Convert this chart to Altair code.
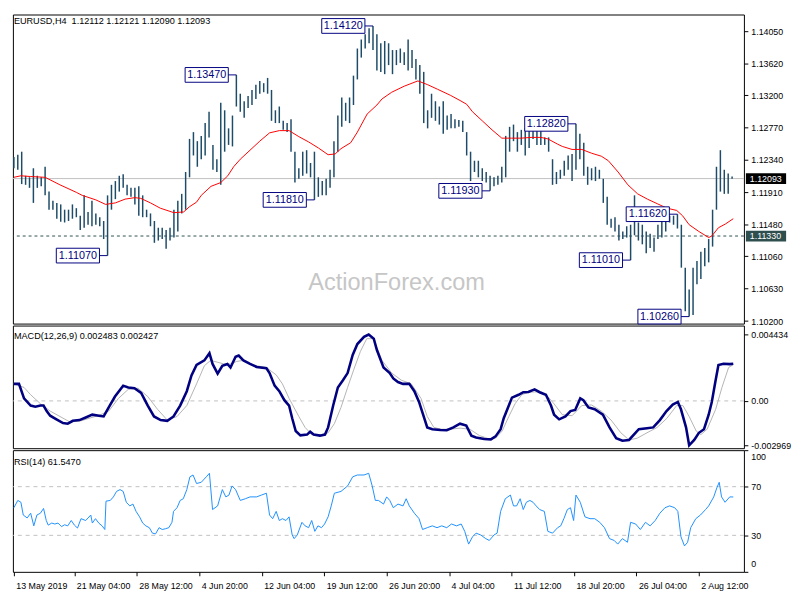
import altair as alt
import pandas as pd

# ---------------- data ----------------
bar_high = [
    1.1238, 1.1241, 1.1245, 1.1213, 1.1211, 1.1223, 1.1213, 1.1211, 1.1225, 1.1192,
    1.1180, 1.1177, 1.1175, 1.1168, 1.1168, 1.1175, 1.1170, 1.1160, 1.1187, 1.1165,
    1.1180, 1.1163, 1.1158, 1.1153, 1.1187, 1.1201, 1.1206, 1.1213, 1.1215, 1.1201,
    1.1197, 1.1197, 1.1199, 1.1187, 1.1168, 1.1163, 1.1153, 1.1144, 1.1144, 1.1141,
    1.1144, 1.1168, 1.1180, 1.1189, 1.1218, 1.1262, 1.1271, 1.1259, 1.1266, 1.1283,
    1.1298, 1.1254, 1.1235, 1.1310, 1.1300, 1.1276, 1.1293, 1.1347, 1.1322, 1.1312,
    1.1319, 1.1327, 1.1334, 1.1339, 1.1336, 1.1343, 1.1327, 1.1300, 1.1305, 1.1286,
    1.1283, 1.1288, 1.1245, 1.1223, 1.1245, 1.1247, 1.1230, 1.1245, 1.1211, 1.1206,
    1.1209, 1.1221, 1.1259, 1.1293, 1.1317, 1.1310, 1.1317, 1.1346, 1.1382, 1.1394,
    1.1401, 1.1409, 1.1412, 1.1401, 1.1389, 1.1392, 1.1389, 1.1380, 1.1380, 1.1382,
    1.1377, 1.1394, 1.1380, 1.1368, 1.1360, 1.1351, 1.1300, 1.1322, 1.1312, 1.1305,
    1.1312, 1.1293, 1.1295, 1.1288, 1.1287, 1.1286, 1.1271, 1.1245, 1.1233, 1.1233,
    1.1223, 1.1218, 1.1213, 1.1211, 1.1213, 1.1225, 1.1266, 1.1278, 1.1281, 1.1271,
    1.1274, 1.1276, 1.1278, 1.1279, 1.1278, 1.1274, 1.1264, 1.1264, 1.1235, 1.1218,
    1.1221, 1.1233, 1.1240, 1.1242, 1.1282, 1.1269, 1.1257, 1.1225, 1.1223, 1.1225,
    1.1221, 1.1209, 1.1185, 1.1156, 1.1158, 1.1148, 1.1139, 1.1146, 1.1148, 1.1187,
    1.1151, 1.1148, 1.1139, 1.1136, 1.1131, 1.1148, 1.1158, 1.1160, 1.1160, 1.1160,
    1.1162, 1.1148, 1.1091, 1.1062, 1.1091, 1.1100, 1.1112, 1.1117, 1.1129, 1.1168,
    1.1225, 1.1247, 1.1221, 1.1216, 1.1212,
]
bar_low = [
    1.1223, 1.1221, 1.1202, 1.1201, 1.1197, 1.1177, 1.1197, 1.1199, 1.1187, 1.1168,
    1.1168, 1.1156, 1.1152, 1.1151, 1.1153, 1.1156, 1.1158, 1.1141, 1.1144, 1.1148,
    1.1146, 1.1148, 1.1146, 1.1129, 1.1107, 1.1168, 1.1182, 1.1192, 1.1197, 1.1187,
    1.1185, 1.1175, 1.1160, 1.1158, 1.1158, 1.1146, 1.1124, 1.1127, 1.1129, 1.1116,
    1.1127, 1.1131, 1.1139, 1.1163, 1.1168, 1.1211, 1.1240, 1.1225, 1.1235, 1.1240,
    1.1264, 1.1221, 1.1218, 1.1201, 1.1245, 1.1254, 1.1252, 1.1305, 1.1298, 1.1290,
    1.1303, 1.1307, 1.1315, 1.1322, 1.1324, 1.1322, 1.1286, 1.1283, 1.1283, 1.1274,
    1.1271, 1.1245, 1.1204, 1.1209, 1.1213, 1.1216, 1.1211, 1.1181, 1.1185, 1.1187,
    1.1187, 1.1197, 1.1211, 1.1245, 1.1278, 1.1286, 1.1283, 1.1307, 1.1341, 1.1370,
    1.1382, 1.1389, 1.1380, 1.1353, 1.1351, 1.1348, 1.1360, 1.1348, 1.1360, 1.1363,
    1.1360, 1.1353, 1.1356, 1.1341, 1.1322, 1.1283, 1.1276, 1.1290, 1.1286, 1.1281,
    1.1269, 1.1274, 1.1276, 1.1276, 1.1278, 1.1271, 1.1240, 1.1206, 1.1218, 1.1211,
    1.1206, 1.1204, 1.1193, 1.1199, 1.1201, 1.1204, 1.1211, 1.1245, 1.1259, 1.1245,
    1.1254, 1.1240, 1.1250, 1.1262, 1.1254, 1.1254, 1.1254, 1.1245, 1.1201, 1.1202,
    1.1209, 1.1213, 1.1221, 1.1206, 1.1221, 1.1235, 1.1213, 1.1201, 1.1207, 1.1206,
    1.1209, 1.1177, 1.1148, 1.1144, 1.1139, 1.1127, 1.1129, 1.1131, 1.1101, 1.1134,
    1.1127, 1.1122, 1.1110, 1.1117, 1.1112, 1.1129, 1.1131, 1.1139, 1.1151, 1.1148,
    1.1143, 1.1091, 1.1033, 1.1026, 1.1028, 1.1069, 1.1076, 1.1093, 1.1098, 1.1119,
    1.1168, 1.1192, 1.1189, 1.1189, 1.1209,
]

ma_bar = [0, 1.8, 4.3, 8, 11.8, 16, 17.5, 21, 23.5, 26, 28.5, 31, 32.5, 35, 37.5, 41, 43.5, 45,
          46.8, 48, 50.5, 53, 54.8, 56.3, 58, 60.5, 63, 65.5, 68, 70.5, 73, 75.5, 78, 80.5,
          82.3, 83.8, 86.3, 88, 90.5, 93, 94.3, 96.8, 100, 103.5, 106, 108.5, 111.8, 114.3,
          116, 117.5, 120, 122.5, 125, 127.5, 130, 132.5, 135, 136.8, 139.3, 140.5, 143,
          145.5, 148, 150.5, 152.3, 154.8, 157.3, 159.8, 162.3, 164.8, 167.3, 169.8, 171.3,
          173, 175.5, 178, 178.8, 180.5, 182.3, 184.3]
ma_val = [1.1211, 1.1213, 1.1212, 1.1211, 1.1201, 1.1191, 1.1187, 1.1181, 1.1175, 1.1177,
          1.1182, 1.1184, 1.1183, 1.1177, 1.1170, 1.1164, 1.1165, 1.1172, 1.1178, 1.1187,
          1.1199, 1.1204, 1.1213, 1.1225, 1.1235, 1.1247, 1.1259, 1.1270, 1.1273, 1.1273,
          1.1265, 1.1258, 1.1250, 1.1241, 1.1242, 1.1249, 1.1257, 1.1271, 1.1295, 1.1307,
          1.1315, 1.1324, 1.1332, 1.1339, 1.1334, 1.1328, 1.1320, 1.1313, 1.1308, 1.1298,
          1.1286, 1.1274, 1.1263, 1.1263, 1.1263, 1.1264, 1.1264, 1.1262, 1.1255, 1.1252,
          1.1248, 1.1248, 1.1243, 1.1239, 1.1233, 1.1218, 1.1201, 1.1189, 1.1182, 1.1176,
          1.1170, 1.1167, 1.1160, 1.1148, 1.1139, 1.1131, 1.1133, 1.1144, 1.1149, 1.1156]

macd_bar = [0, 1.3, 2.6, 4.3, 5.5, 6.8, 7.6, 8.4, 9.3, 10.9, 12.6, 13.8, 15.1, 16.8, 18.4, 20.1,
            21.8, 23, 24.3, 25.9, 28, 29.3, 30.9, 32.6, 34.3, 35.9, 37.6, 39.3, 40.9, 42.6,
            44.3, 45.5, 46.8, 48.8, 50.1, 50.9, 52.2, 53.4, 54.7, 55.5, 56.8, 57.6, 58.8, 60.5,
            62.2, 64.7, 65.5, 66.8, 68, 69.3, 70.5, 71.3, 72.2, 73.4, 75.1, 75.9, 76.8, 78.4,
            79.7, 80.5, 81.8, 83, 84.3, 85.5, 86.8, 88, 89.7, 90.9, 92.2, 93, 94.7, 96.3, 97.2,
            98.4, 99.7, 101.3, 102.6, 103.8, 104.7, 105.9, 107.2, 109.3, 110.9, 112.6, 114.3,
            115.9, 117.2, 118.4, 120.5, 122.2, 123.4, 124.7, 125.5, 126.8, 127.6, 129.3, 130.5,
            131.8, 133.4, 134.7, 136.3, 137.6, 138.4, 139.7, 141.3, 142.6, 143.8, 145.1, 145.9,
            147.2, 148.8, 150.9, 152.6, 154.3, 155.9, 157.6, 160.1, 162.2, 163.8, 165.5, 167.2,
            168.8, 170.1, 170.9, 172.2, 173, 174.3, 175.5, 176.8, 178, 178.8, 179.7, 180.5,
            181.8, 183.4, 184.3]
macd_val = [0.00114, 0.00114, 0.00017, -0.00031, -0.00039, -0.00031, -0.00031, -0.00068,
            -0.00099, -0.00123, -0.00148, -0.00152, -0.00133, -0.00128, -0.00111, -0.00092,
            -0.00099, -0.00104, -0.00044, 0.00029, 0.00102, 0.00090, 0.00085, 0.00053,
            -0.00031, -0.00104, -0.00128, -0.00133, -0.00104, -0.00031, 0.00065, 0.00170,
            0.00240, 0.00271, 0.00319, 0.00247, 0.00182, 0.00235, 0.00247, 0.00223, 0.00295,
            0.00303, 0.00271, 0.00247, 0.00227, 0.00218, 0.00186, 0.00102, 0.00065, 0.00005,
            -0.00031, -0.00116, -0.00201, -0.00230, -0.00225, -0.00206, -0.00225, -0.00232,
            -0.00225, -0.00177, -0.00031, 0.00090, 0.00138, 0.00186, 0.00307, 0.00380,
            0.00428, 0.004434, 0.00416, 0.00340, 0.00223, 0.00186, 0.00150, 0.00126, 0.00114,
            0.00114, 0.00065, -0.00007, -0.00080, -0.00177, -0.00189, -0.00194, -0.00196,
            -0.00177, -0.00152, -0.00165, -0.00232, -0.00244, -0.00254, -0.00257, -0.00237,
            -0.00189, -0.00116, -0.00031, 0.00022, 0.00041, 0.00058, 0.00060, 0.00077,
            0.00058, 0.00041, -0.00031, -0.00092, -0.00123, -0.00104, -0.00068, -0.00060,
            0.00017, 0.00005, -0.00044, -0.00056, -0.00092, -0.00177, -0.00249, -0.00266,
            -0.00261, -0.00189, -0.00182, -0.00177, -0.00128, -0.00068, -0.00024, -0.00007,
            -0.00056, -0.00177, -0.002969, -0.00261, -0.00213, -0.00189, -0.00092, -0.00007,
            0.00126, 0.00240, 0.00248, 0.00246, 0.002483]

sig_bar = [0, 2.6, 4.3, 6.8, 9.3, 11.8, 14.3, 16.8, 19.3, 21.8, 24.3, 26.8, 29.3, 31.8, 34.3,
           36.8, 39.3, 41.8, 44.3, 46.8, 48.8, 50.4, 52.1, 53.8, 55.5, 57.1, 58.8, 60.5, 62.2,
           64.7, 67.2, 68.8, 70.5, 73, 74.6, 76.3, 78.8, 80.5, 82.1, 83.8, 85.5, 87.1, 88.8,
           90.4, 92.1, 94.3, 96.8, 99.3, 101.8, 104.3, 105.9, 107.6, 109.3, 111.8, 114.3,
           116.8, 119.3, 121.8, 123.4, 125.1, 126.8, 128.4, 130.1, 131.8, 133.4, 135.1, 136.8,
           138.4, 140.5, 143, 145.5, 148, 150.5, 153, 155.5, 157.6, 159.7, 162.2, 164.8,
           167.3, 169.8, 171.4, 173, 174.8, 176, 177.6, 179.8, 181.4, 183.1, 184.3]
sig_val = [0.00114, 0.00090, 0.00041, -0.00019, -0.00068, -0.00104, -0.00140, -0.00136,
           -0.00116, -0.00097, -0.00068, 0.00017, 0.00077, 0.00085, 0.00029, -0.00056,
           -0.00128, -0.00104, -0.00031, 0.00114, 0.00235, 0.00271, 0.00259, 0.00247,
           0.00247, 0.00264, 0.00271, 0.00247, 0.00235, 0.00223, 0.00174, 0.00114, 0.00017,
           -0.00104, -0.00177, -0.00225, -0.00225, -0.00213, -0.00152, -0.00044, 0.00090,
           0.00211, 0.00332, 0.00416, 0.00416, 0.00271, 0.00186, 0.00138, 0.00114, 0.00017,
           -0.00104, -0.00177, -0.00189, -0.00189, -0.00182, -0.00189, -0.00232, -0.00254,
           -0.00249, -0.00201, -0.00104, -0.00019, 0.00041, 0.00058, 0.00060, 0.00060,
           0.00029, -0.00020, -0.00092, -0.00099, -0.00031, -0.00027, -0.00068, -0.00128,
           -0.00213, -0.00261, -0.00249, -0.00213, -0.00177, -0.00116, -0.00031, -0.00031,
           -0.00104, -0.00201, -0.00225, -0.00189, -0.00056, 0.00090, 0.00223, 0.002427]

rsi_bar = [0, 1, 1.8, 2.4, 3.4, 4.3, 5.1, 5.9, 6.8, 7.6, 8.3, 8.8, 9.7, 10.5, 11.3, 12.2, 13,
           13.8, 14.7, 15.5, 16.3, 17.2, 18.4, 19.7, 20.1, 20.9, 21.8, 22.6, 23.3, 23.6, 24.7,
           25.5, 26.3, 27.2, 28, 28.8, 29.7, 30.5, 31.3, 32.2, 33, 33.8, 34.7, 35.5, 36.3,
           37.2, 38, 38.8, 39.7, 40.5, 40.9, 41.8, 42.6, 43.4, 44.3, 45.1, 45.9, 46.8, 48,
           49.3, 50.1, 50.9, 52.2, 53.4, 54.3, 55.1, 55.9, 56.8, 58, 59.3, 60.5, 62.2, 63.4,
           64.7, 65.5, 66.3, 67.2, 68, 68.8, 69.7, 70.5, 71.3, 71.8, 72.6, 73.8, 74.6, 75.5,
           76.3, 77.1, 77.9, 78.8, 79.6, 80.5, 81.3, 82.1, 83.8, 85.5, 86.8, 88, 89.7, 90.9,
           91.8, 92.6, 93.4, 94.7, 95.5, 96.3, 97.2, 98.4, 99.7, 100.5, 101.3, 102.6, 103.8,
           104.7, 105.9, 107.2, 108.4, 109.6, 110.9, 112.1, 113.4, 114.6, 115.5, 116.5, 117.5,
           118.4, 119.6, 120.9, 121.8, 123, 123.8, 124.7, 125.9, 127.2, 128, 128.8, 129.7,
           130.5, 131.3, 132.2, 133, 133.8, 134.7, 135.9, 136.8, 138, 139.3, 140.1, 140.9,
           141.8, 142.6, 143.4, 144, 145.1, 146.3, 147.6, 148.8, 150.1, 151.3, 152.6, 153.8,
           154.7, 155.9, 157.2, 158, 159.3, 160.5, 161.8, 163, 164.3, 165.5, 166.8, 168,
           169.3, 170.1, 170.9, 171.8, 172.6, 173.4, 174.7, 175.9, 177.2, 178, 179.3, 180.1,
           180.7, 181.3, 182.2, 183.4, 184.3]
rsi_val = [52.7, 58.7, 57.2, 46.7, 44.3, 48.2, 37.8, 46.7, 48.2, 52.1, 42.2, 38.4, 40.1, 39.3,
           40.1, 37.2, 38.7, 37.8, 42.2, 38.4, 36.0, 43.7, 42.2, 46.7, 40.1, 43.7, 39.9, 37.8,
           34.8, 58.1, 58.7, 61.6, 66.1, 67.6, 66.1, 57.2, 54.2, 55.7, 49.7, 45.2, 40.1, 37.8,
           36.3, 31.8, 31.2, 36.3, 34.8, 35.4, 36.3, 40.7, 49.7, 52.7, 58.7, 60.1, 67.6, 78.1,
           79.6, 72.6, 73.6, 78.1, 81.0, 51.2, 54.2, 67.6, 61.6, 63.1, 70.6, 67.6, 58.7, 60.1,
           61.6, 61.6, 63.1, 64.6, 46.7, 43.7, 49.7, 42.2, 43.7, 42.2, 45.2, 30.3, 27.3, 30.3,
           40.7, 37.8, 36.3, 42.2, 33.3, 37.8, 36.3, 39.3, 45.2, 54.2, 64.6, 66.1, 70.6, 78.1,
           79.6, 79.6, 81.0, 70.6, 58.7, 58.7, 55.7, 61.6, 58.7, 52.7, 55.7, 54.2, 60.1, 54.2,
           48.2, 43.7, 34.8, 36.3, 37.8, 36.3, 37.8, 36.3, 39.3, 37.8, 39.3, 33.3, 22.8, 28.8,
           31.8, 30.3, 27.3, 25.8, 30.3, 31.8, 49.7, 60.1, 63.1, 54.2, 54.2, 60.1, 51.2, 57.2,
           58.7, 57.2, 54.2, 51.2, 49.7, 33.3, 31.8, 36.3, 37.8, 43.7, 51.2, 52.7, 42.2, 63.1,
           57.2, 45.2, 43.7, 43.7, 40.7, 36.3, 27.3, 25.8, 22.8, 27.3, 24.3, 40.7, 39.3, 34.8,
           40.7, 37.8, 42.2, 48.2, 52.7, 54.2, 52.7, 49.7, 28.8, 21.3, 24.3, 36.3, 43.7, 46.7,
           51.2, 54.2, 61.6, 69.1, 73.6, 61.6, 57.2, 61.6, 61.547]

ann_bar = [92, 57, 77, 24, 122, 144, 170, 158, 173]
ann_price = [1.1412, 1.1347, 1.1181, 1.1107, 1.1193, 1.1282, 1.1162, 1.1101, 1.1026]
ann_label = ["1.14120", "1.13470", "1.11810", "1.11070", "1.11930", "1.12820", "1.11620",
             "1.11010", "1.10260"]

price_ticks = [1.1405, 1.1362, 1.1320, 1.1277, 1.1234, 1.1191, 1.1148, 1.1106, 1.1063, 1.1020]
last_price = 1.12093
level_price = 1.1133
tag_prices = [1.12093, 1.1133]
tag_labels = ["1.12093", "1.11330"]
tag_colors = ["#000000", "#2f4f4f"]

macd_ticks = [0.004434, 0.0, -0.002969]
macd_tick_labels = ["0.004434", "0.00", "-0.002969"]
rsi_ticks = [0, 30, 70, 100]
rsi_levels = [30, 70]

x_ticks = [0, 15.5, 31.5, 47.5, 63.5, 79.5, 95.5, 111.5, 127.5, 143.5, 159.5, 175.5]
x_labels = ["13 May 2019", "21 May 04:00", "28 May 12:00", "4 Jun 20:00", "12 Jun 04:00",
            "19 Jun 12:00", "26 Jun 20:00", "4 Jul 04:00", "11 Jul 12:00", "18 Jul 20:00",
            "26 Jul 04:00", "2 Aug 12:00"]

title_main = "EURUSD,H4\u00a0 1.12112 1.12121 1.12090 1.12093"
title_macd = "MACD(12,26,9) 0.002483 0.002427"
title_rsi = "RSI(14) 61.5470"
watermark = "ActionForex.com"

# ---------------- styling ----------------
W = 745
H_MAIN, H_MACD, H_RSI = 315, 125, 124
FONT = "Liberation Sans"
NAVY = "#000080"
BAR_COLOR = "#1d4b68"
BOX_PATH = "M-1,-0.341L1,-0.341L1,0.341L-1,0.341Z"


def ternary(vals, labels):
    expr = "''"
    for v, l in reversed(list(zip(vals, labels))):
        expr = f"datum.value == {v} ? '{l}' : ({expr})"
    return expr


x_scale = alt.Scale(domain=[-0.25, 187.03], nice=False, zero=False)
price_scale = alt.Scale(domain=[1.10167, 1.14272], nice=False, zero=False)
macd_scale = alt.Scale(domain=[-0.003161, 0.005036], nice=False, zero=False)
rsi_scale = alt.Scale(domain=[0, 100], nice=False, zero=False)

price_axis = alt.Axis(orient="right", values=price_ticks, format=".5f", title=None,
                      tickSize=4, labelPadding=3, labelOverlap=False)
macd_axis = alt.Axis(orient="right", values=macd_ticks,
                     labelExpr=ternary(macd_ticks, macd_tick_labels), title=None,
                     tickSize=4, labelPadding=3, labelOverlap=False)
rsi_axis = alt.Axis(orient="right", values=rsi_ticks, format="d", title=None,
                    tickSize=4, labelPadding=3, labelFlush=True, labelFlushOffset=-3,
                    labelOverlap=False)
x_axis = alt.Axis(orient="bottom", values=x_ticks, labelExpr=ternary(x_ticks, x_labels),
                  title=None, tickSize=4, labelPadding=6, labelAlign="left", labelOffset=2,
                  labelFlush=False, labelOverlap=False)


def PX(f, axis=None):
    return alt.X(f, type="quantitative", scale=x_scale, axis=axis)


def PY(f):
    return alt.Y(f, type="quantitative", scale=price_scale, axis=price_axis)


def MY(f):
    return alt.Y(f, type="quantitative", scale=macd_scale, axis=macd_axis)


def RY(f):
    return alt.Y(f, type="quantitative", scale=rsi_scale, axis=rsi_axis)


def one(text):
    return pd.DataFrame({"t": [text]})


# ---------------- main price panel ----------------
bars_df = pd.DataFrame({"bar": list(range(len(bar_high))), "high": bar_high, "low": bar_low})
ma_df = pd.DataFrame({"bar": ma_bar, "val": ma_val})
ann_df = pd.DataFrame({"bar": ann_bar, "price": ann_price, "label": ann_label})
tag_df = pd.DataFrame({"p": tag_prices, "label": tag_labels, "bg": tag_colors})

wm = alt.Chart(one(watermark)).mark_text(font=FONT, fontSize=24, color="#c6c6c6",
                                         align="center", baseline="middle").encode(
    x=alt.value(391), y=alt.value(274), text="t:N")
last_line = alt.Chart(pd.DataFrame({"p": [last_price]})).mark_rule(
    color="#c0c0c0", strokeWidth=1).encode(y=PY("p"))
level_line = alt.Chart(pd.DataFrame({"p": [level_price]})).mark_rule(
    color="#2f4f4f", strokeWidth=1, strokeDash=[3, 3]).encode(y=PY("p"))
bars = alt.Chart(bars_df).mark_rule(color=BAR_COLOR, strokeWidth=1.5).encode(
    x=PX("bar"), y=PY("low"), y2=alt.Y2("high"))
ma = alt.Chart(ma_df).mark_line(color="#ff0000", strokeWidth=1).encode(
    x=PX("bar"), y=PY("val"))
ann_base = alt.Chart(ann_df).transform_calculate(bc="datum.bar - 7.6")
conn = ann_base.mark_rule(color=NAVY, strokeWidth=1).encode(
    x=PX("bc"), x2=alt.X2("bar"), y=PY("price"))
box = ann_base.mark_point(shape=BOX_PATH, size=1936, filled=True, fill="white",
                          stroke=NAVY, strokeWidth=1, opacity=1).encode(
    x=PX("bc"), y=PY("price"))
ann_txt = ann_base.mark_text(font=FONT, fontSize=11, color=NAVY,
                             align="center", baseline="middle").encode(
    x=PX("bc"), y=PY("price"), text="label:N")
head_main = alt.Chart(one(title_main)).mark_text(font=FONT, fontSize=9.3, color="black",
                                                 align="left", baseline="top").encode(
    x=alt.value(1), y=alt.value(3), text="t:N")
tag_box = alt.Chart(tag_df).mark_rule(strokeWidth=11).encode(
    x=alt.value(W + 2), x2=alt.value(W + 43), y=PY("p"),
    color=alt.Color("bg:N", scale=None))
tag_txt = alt.Chart(tag_df).mark_text(font=FONT, fontSize=9, color="white",
                                      align="left", baseline="middle").encode(
    x=alt.value(W + 6), y=PY("p"), text="label:N")

main = alt.layer(wm, last_line, level_line, bars, ma, conn, box, ann_txt, head_main,
                 tag_box, tag_txt).properties(width=W, height=H_MAIN)

# ---------------- MACD panel ----------------
macd_df = pd.DataFrame({"bar": macd_bar, "val": macd_val})
sig_df = pd.DataFrame({"bar": sig_bar, "val": sig_val})
zero_line = alt.Chart(pd.DataFrame({"v": [0.0]})).mark_rule(
    color="#c0c0c0", strokeWidth=1, strokeDash=[4, 4]).encode(y=MY("v"))
sig_line = alt.Chart(sig_df).mark_line(color="#b4b4b4", strokeWidth=1).encode(
    x=PX("bar"), y=MY("val"))
macd_line = alt.Chart(macd_df).mark_line(color=NAVY, strokeWidth=2.6).encode(
    x=PX("bar"), y=MY("val"))
head_macd = alt.Chart(one(title_macd)).mark_text(font=FONT, fontSize=9.3, color="black",
                                                 align="left", baseline="middle").encode(
    x=alt.value(1), y=alt.value(11), text="t:N")
macd = alt.layer(zero_line, sig_line, macd_line, head_macd).properties(width=W, height=H_MACD)

# ---------------- RSI panel ----------------
rsi_df = pd.DataFrame({"bar": rsi_bar, "val": rsi_val})
rsi_lv = alt.Chart(pd.DataFrame({"v": rsi_levels})).mark_rule(
    color="#c0c0c0", strokeWidth=1, strokeDash=[4, 4]).encode(y=RY("v"))
rsi_line = alt.Chart(rsi_df).mark_line(color="#1e90ff", strokeWidth=1).encode(
    x=PX("bar", axis=x_axis), y=RY("val"))
head_rsi = alt.Chart(one(title_rsi)).mark_text(font=FONT, fontSize=9.3, color="black",
                                               align="left", baseline="middle").encode(
    x=alt.value(1), y=alt.value(12), text="t:N")
rsi = alt.layer(rsi_lv, rsi_line, head_rsi).properties(width=W, height=H_RSI)

chart = alt.vconcat(main, macd, rsi, spacing=2, bounds="flush").properties(
    padding=0, background="white"
).configure_view(stroke="black", strokeWidth=1).configure_axis(
    labelFont=FONT, labelFontSize=9, labelColor="black", tickColor="black", tickWidth=1,
    domain=False, grid=False
)

chart.save("out.html", embed_options={"renderer": "svg", "actions": False})
